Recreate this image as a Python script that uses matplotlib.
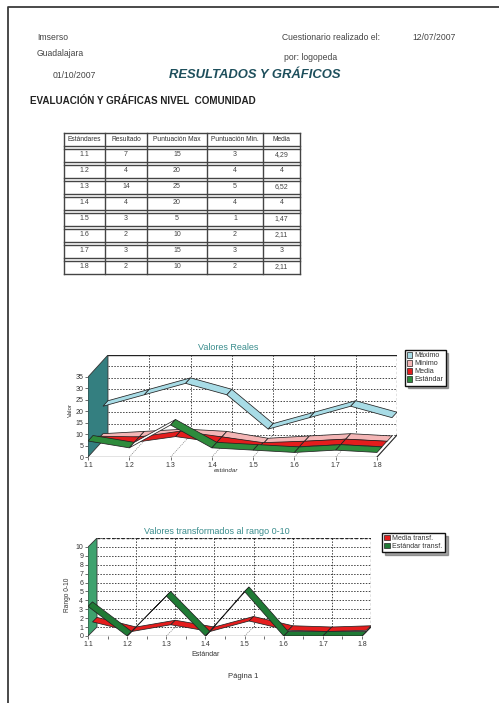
import matplotlib
matplotlib.use("Agg")
import matplotlib.pyplot as plt
from matplotlib.patches import Polygon, Rectangle, Patch

plt.rcParams['font.family'] = ['Liberation Sans', 'DejaVu Sans']

# datos de la tabla
estandares = ["1.1", "1.2", "1.3", "1.4", "1.5", "1.6", "1.7", "1.8"]
resultado = [7, 4, 14, 4, 3, 2, 3, 2]
punt_max = [15, 20, 25, 20, 5, 10, 15, 10]
punt_min = [3, 4, 5, 4, 1, 2, 3, 2]
media = [4.29, 4, 6.52, 4, 1.47, 2.11, 3, 2.11]
cabeceras = ["Estándares", "Resultado", "Puntuación Max", "Puntuación Min.", "Media"]

# valores transformados al rango 0-10
media_transf = [1.08, 0, 0.76, 0, 1.18, 0.14, 0, 0.14]
estandar_transf = [3.33, 0, 4.5, 0, 5.0, 0, 0, 0]

W, H = 499, 703
GRIS = '#444444'


def caja(l, t, r, b):
    # pixeles -> fraccion de figura
    return [l / W, 1 - b / H, (r - l) / W, (b - t) / H]


def cinta(ax, vals, z0, z1, color, dx, dy, umbral=0.4):
    # linea 3D como cinta, segmento a segmento
    for i in range(len(vals) - 1):
        x0, x1 = i, i + 1
        y0, y1 = vals[i], vals[i + 1]
        quad = [(x0 + z0 * dx, y0 + z0 * dy), (x1 + z0 * dx, y1 + z0 * dy),
                (x1 + z1 * dx, y1 + z1 * dy), (x0 + z1 * dx, y0 + z1 * dy)]
        p0 = ax.transData.transform((x0, y0))
        p1 = ax.transData.transform((x1, y1))
        pend = (p1[1] - p0[1]) / (p1[0] - p0[0])
        fc = color if pend < umbral else 'white'
        ax.add_patch(Polygon(quad, closed=True, fc=fc, ec='#222222', lw=0.55, zorder=5))


def marco3d(ax, n, ymax, dx, dy, ystep, pared, borde_sup='-'):
    ax.set_xlim(0, n - 1 + dx)
    ax.set_ylim(0, ymax + dy)
    for s in ax.spines.values():
        s.set_visible(False)
    # pared del fondo
    ax.add_patch(Rectangle((dx, dy), n - 1, ymax, fc='white', ec='none', zorder=0))
    yv = 0
    while yv <= ymax:
        ax.plot([dx, n - 1 + dx], [yv + dy, yv + dy], ls=(0, (1.5, 1.5)), color='#444444', lw=0.7, zorder=1)
        yv += ystep
    for i in range(1, n - 1):
        ax.plot([i + dx, i + dx], [dy, ymax + dy], ls=(0, (1.5, 1.5)), color='#444444', lw=0.7, zorder=1)
        ax.plot([i, i + dx], [0, dy], ls=(0, (1.5, 1.5)), color='#777777', lw=0.5, zorder=1)
    ax.plot([dx, n - 1 + dx], [ymax + dy, ymax + dy], ls=borde_sup, color='#222222', lw=1.0, zorder=2)
    ax.plot([n - 1 + dx, n - 1 + dx], [dy, ymax + dy], ls=(0, (2, 1.5)), color='#222222', lw=0.9, zorder=2)
    ax.plot([n - 1, n - 1 + dx], [0, dy], color='#222222', lw=0.8, zorder=2)
    # pared izquierda
    ax.add_patch(Polygon([(0, 0), (dx, dy), (dx, ymax + dy), (0, ymax)], closed=True,
                         fc=pared, ec='#333333', lw=0.6, zorder=3))
    ax.plot([0, n - 1], [0, 0], color='#222222', lw=0.9, zorder=6)
    ax.set_xticks(range(n))
    ax.set_xticklabels(estandares)
    ax.tick_params(labelsize=5, length=2, width=0.5, colors='#333333', pad=1.5)
    ax.set_facecolor('none')


fig = plt.figure(figsize=(W / 100, H / 100), dpi=100)
page = fig.add_axes([0, 0, 1, 1])
page.set_xlim(0, W)
page.set_ylim(H, 0)
page.axis('off')

# borde de la pagina
page.plot([8, 8, W], [H, 7, 7], color='#3a3a3a', lw=1.3)

# cabecera
page.text(37, 38, "Imserso", fontsize=6.2, color=GRIS, va='center')
page.text(37, 54, "Guadalajara", fontsize=6.2, color=GRIS, va='center')
page.text(53, 75, "01/10/2007", fontsize=6.2, color=GRIS, va='center')
page.text(282, 38, "Cuestionario realizado el:", fontsize=6.2, color=GRIS, va='center')
page.text(412, 38, "12/07/2007", fontsize=6.2, color=GRIS, va='center')
page.text(284, 58, "por: logopeda", fontsize=6.2, color=GRIS, va='center')
page.text(255, 75, "RESULTADOS Y GRÁFICOS", fontsize=9.4, fontweight='bold', fontstyle='italic',
          color='#1e4f5c', ha='center', va='center')
page.text(30, 101, "EVALUACIÓN Y GRÁFICAS NIVEL  COMUNIDAD", fontsize=7.1, fontweight='bold',
          color='#222222', va='center')

# tabla
cols = [64, 105, 147, 207, 263, 300]
filas = [(133, 146)] + [(155 + 16 * i - 6.5, 155 + 16 * i + 6.5) for i in range(len(estandares))]
for t, b in filas:
    page.plot([cols[0], cols[-1]], [t, t], color='#444444', lw=1.0)
    page.plot([cols[0], cols[-1]], [b, b], color='#444444', lw=1.0)
for c in cols:
    page.plot([c, c], [133, filas[-1][1]], color='#444444', lw=1.0)
for j, txt in enumerate(cabeceras):
    page.text((cols[j] + cols[j + 1]) / 2, 139.5, txt, fontsize=4.8, color='#333333',
              ha='center', va='center')
for i in range(len(estandares)):
    fila = [estandares[i], str(resultado[i]), str(punt_max[i]), str(punt_min[i]),
            ("%g" % media[i]).replace('.', ',')]
    yc = (filas[i + 1][0] + filas[i + 1][1]) / 2
    for j, txt in enumerate(fila):
        page.text((cols[j] + cols[j + 1]) / 2, yc, txt, fontsize=5, color='#444444',
                  ha='center', va='center')

# grafico 1: valores reales
n = len(estandares)
dx1, dy1 = 0.484, 9.6
ax1 = fig.add_axes(caja(88, 355, 397, 457))
marco3d(ax1, n, 35, dx1, dy1, 5, '#347f80')
ax1.set_yticks(range(0, 36, 5))
series1 = [(punt_max, '#a8dce6', 3), (punt_min, '#f4b6b6', 2), (media, '#e41d1d', 1), (resultado, '#2e8b3c', 0)]
for vals, col, k in series1:
    cinta(ax1, vals, k / 4, (k + 1) / 4, col, dx1, dy1)
page.text(228, 348, "Valores Reales", fontsize=6.5, color='#3a8d8d', ha='center', va='center')
page.text(70, 410, "Valor", fontsize=4.5, color='#333333', rotation=90, ha='center', va='center')
page.text(226, 471, "estándar", fontsize=4.5, color='#333333', fontstyle='italic', ha='center', va='center')
ax1.legend(handles=[Patch(fc='#a8dce6', ec='#222222', lw=0.5, label='Máximo'),
                    Patch(fc='#f4b6b6', ec='#222222', lw=0.5, label='Mínimo'),
                    Patch(fc='#e41d1d', ec='#222222', lw=0.5, label='Media'),
                    Patch(fc='#2e8b3c', ec='#222222', lw=0.5, label='Estándar')],
           loc='upper left', bbox_to_anchor=(405 / W, 1 - 350 / H), bbox_transform=fig.transFigure,
           fontsize=5.2, handlelength=0.7, handleheight=0.8, handletextpad=0.3, labelspacing=0.1,
           borderpad=0.3, borderaxespad=0, fancybox=False, shadow=True, edgecolor='#111111',
           framealpha=1, labelcolor='#333333')

# grafico 2: valores transformados
dx2, dy2 = 0.23, 1.01
ax2 = fig.add_axes(caja(88, 538, 371, 636))
marco3d(ax2, n, 10, dx2, dy2, 1, '#3ea26e', borde_sup=(0, (2, 1.5)))
ax2.set_yticks(range(0, 11))
ax2.set_xticks([i + 0.5 for i in range(n - 1)], minor=True)
ax2.tick_params(which='minor', length=2, width=0.5, colors='#333333')
cinta(ax2, media_transf, 0.5, 1.0, '#e41d1d', dx2, dy2)
cinta(ax2, estandar_transf, 0.0, 0.5, '#1f7a35', dx2, dy2)
page.text(217, 531, "Valores transformados al rango 0-10", fontsize=6.5, color='#3a8d8d',
          ha='center', va='center')
page.text(68, 595, "Rango 0-10", fontsize=4.8, color='#333333', rotation=90, ha='center', va='center')
page.text(206, 655, "Estándar", fontsize=5, color='#333333', ha='center', va='center')
ax2.legend(handles=[Patch(fc='#e41d1d', ec='#222222', lw=0.5, label='Media transf.'),
                    Patch(fc='#1f7a35', ec='#222222', lw=0.5, label='Estándar transf.')],
           loc='upper left', bbox_to_anchor=(382 / W, 1 - 533 / H), bbox_transform=fig.transFigure,
           fontsize=5, handlelength=0.9, handleheight=0.8, handletextpad=0.3, labelspacing=0.1,
           borderpad=0.3, borderaxespad=0, fancybox=False, shadow=True, edgecolor='#111111',
           framealpha=1, labelcolor='#333333')

page.text(243, 677, "Página 1", fontsize=5.5, color='#333333', ha='center', va='center')

fig.savefig('out.png', dpi=100)
